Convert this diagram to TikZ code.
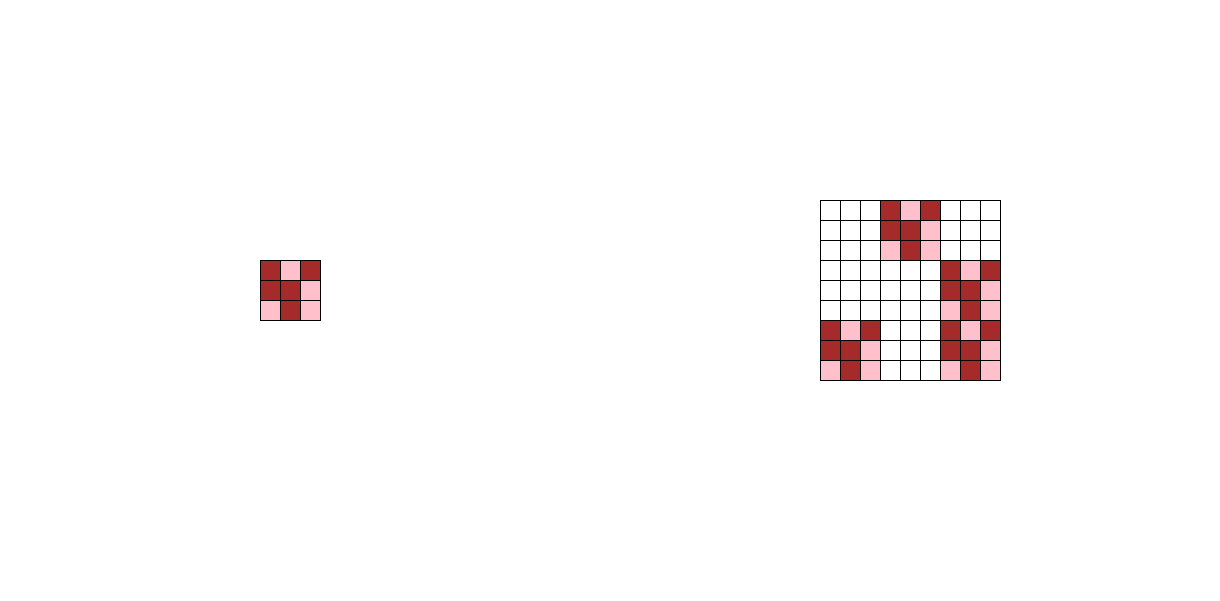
\documentclass[tikz,border=0pt]{standalone}
\usetikzlibrary{calc}
\definecolor{darkcell}{HTML}{A52A2A}
\definecolor{pinkcell}{HTML}{FFC0CB}
\tikzset{cell/.style={draw=black, line width=0.6pt}}
\def\motif{{1,0,1,1,1,0,0,1,0}}

\begin{document}
\begin{tikzpicture}[x=0.5cm, y=-0.5cm]
    \useasboundingbox (0,0) rectangle (61,30);

    % small 3x3 motif
    \foreach \i in {0,1,2} {
        \foreach \j in {0,1,2} {
            \pgfmathtruncatemacro{\val}{\motif[3*\i+\j]}
            \ifcase\val\def\fillc{pinkcell}\else\def\fillc{darkcell}\fi
            \draw[cell, fill=\fillc] (13+\j,13+\i) rectangle ++(1,1);
        }
    }

    % large 9x9 grid: motif copied into the pink positions
    \foreach \bi in {0,1,2} {
        \foreach \bj in {0,1,2} {
            \pgfmathtruncatemacro{\blk}{\motif[3*\bi+\bj]}
            \foreach \i in {0,1,2} {
                \foreach \j in {0,1,2} {
                    \pgfmathtruncatemacro{\val}{\blk==0 ? \motif[3*\i+\j] : 2}
                    \ifcase\val\def\fillc{pinkcell}\or\def\fillc{darkcell}\else\def\fillc{white}\fi
                    \draw[cell, fill=\fillc] (41+3*\bj+\j,10+3*\bi+\i) rectangle ++(1,1);
                }
            }
        }
    }
\end{tikzpicture}
\end{document}
